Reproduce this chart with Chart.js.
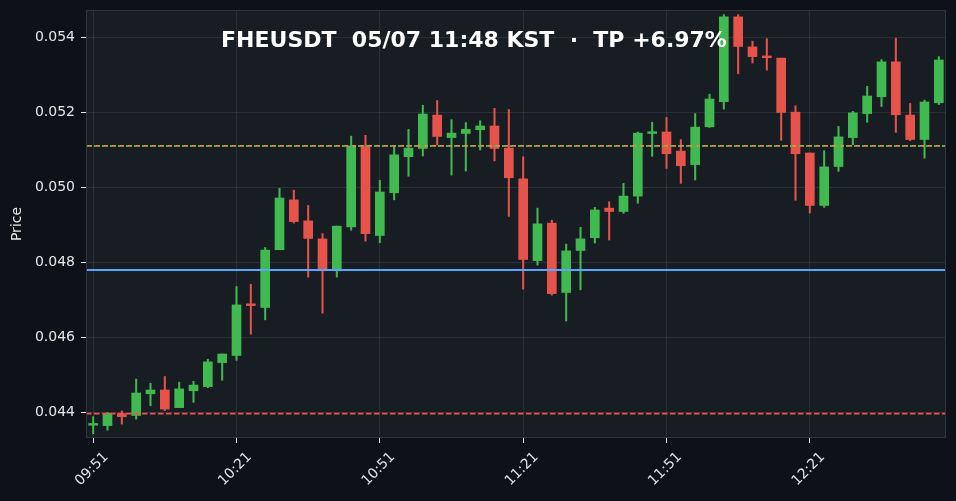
<!DOCTYPE html>
<html>
<head>
<meta charset="utf-8">
<script src="https://cdn.jsdelivr.net/npm/chart.js@4.4.1/dist/chart.umd.min.js"></script>
<style>
  html, body { margin: 0; padding: 0; background: #0e1117; }
  #wrap { width: 956px; height: 501px; position: relative; }
</style>
</head>
<body>
<div id="wrap"><canvas id="chart"></canvas></div>
<script>
// candle times, 3 minute bars
const times = [
  '09:51','09:54','09:57','10:00','10:03','10:06','10:09','10:12','10:15','10:18',
  '10:21','10:24','10:27','10:30','10:33','10:36','10:39','10:42','10:45','10:48',
  '10:51','10:54','10:57','11:00','11:03','11:06','11:09','11:12','11:15','11:18',
  '11:21','11:24','11:27','11:30','11:33','11:36','11:39','11:42','11:45','11:48',
  '11:51','11:54','11:57','12:00','12:03','12:06','12:09','12:12','12:15','12:18',
  '12:21','12:24','12:27','12:30','12:33','12:36','12:39','12:42','12:45','12:48'
];

const opens = [
  0.04366, 0.04365, 0.04397, 0.04392, 0.04450, 0.04460, 0.04413, 0.04458, 0.04469, 0.04533,
  0.04552, 0.04689, 0.04680, 0.04834, 0.04967, 0.04911, 0.04863, 0.04778, 0.04895, 0.05109,
  0.04872, 0.04986, 0.05082, 0.05104, 0.05193, 0.05133, 0.05144, 0.05154, 0.05164, 0.05105,
  0.05023, 0.04805, 0.04905, 0.04720, 0.04832, 0.04866, 0.04945, 0.04936, 0.04977, 0.05144,
  0.05148, 0.05097, 0.05061, 0.05162, 0.05229, 0.05455, 0.05375, 0.05350, 0.05345, 0.05201,
  0.05092, 0.04952, 0.05056, 0.05133, 0.05197, 0.05242, 0.05335, 0.05193, 0.05128, 0.05226
];
const highs = [
  0.04389, 0.04400, 0.04404, 0.04489, 0.04478, 0.04496, 0.04481, 0.04483, 0.04542, 0.04556,
  0.04736, 0.04742, 0.04840, 0.04998, 0.04993, 0.04952, 0.04877, 0.04897, 0.05137, 0.05139,
  0.05019, 0.05109, 0.05155, 0.05219, 0.05232, 0.05181, 0.05173, 0.05178, 0.05211, 0.05208,
  0.05082, 0.04945, 0.04913, 0.04849, 0.04894, 0.04947, 0.04962, 0.05011, 0.05148, 0.05174,
  0.05187, 0.05128, 0.05197, 0.05249, 0.05461, 0.05461, 0.05390, 0.05397, 0.05345, 0.05218,
  0.05092, 0.05098, 0.05163, 0.05203, 0.05270, 0.05341, 0.05398, 0.05224, 0.05233, 0.05349
];
const lows = [
  0.04343, 0.04353, 0.04369, 0.04382, 0.04418, 0.04405, 0.04413, 0.04427, 0.04466, 0.04486,
  0.04539, 0.04609, 0.04647, 0.04834, 0.04905, 0.04761, 0.04665, 0.04761, 0.04886, 0.04857,
  0.04853, 0.04967, 0.05030, 0.05084, 0.05113, 0.05033, 0.05044, 0.05100, 0.05071, 0.04923,
  0.04729, 0.04793, 0.04713, 0.04644, 0.04727, 0.04852, 0.04860, 0.04931, 0.04958, 0.05083,
  0.05051, 0.05011, 0.05020, 0.05160, 0.05209, 0.05303, 0.05332, 0.05313, 0.05126, 0.04966,
  0.04932, 0.04947, 0.05043, 0.05114, 0.05174, 0.05216, 0.05147, 0.05125, 0.05078, 0.05221
];
const closes = [
  0.04366, 0.04398, 0.04389, 0.04452, 0.04460, 0.04409, 0.04463, 0.04473, 0.04535, 0.04556,
  0.04687, 0.04685, 0.04833, 0.04972, 0.04909, 0.04864, 0.04778, 0.04897, 0.05111, 0.04877,
  0.04988, 0.05087, 0.05105, 0.05196, 0.05136, 0.05145, 0.05155, 0.05164, 0.05104, 0.05026,
  0.04808, 0.04903, 0.04717, 0.04831, 0.04863, 0.04940, 0.04936, 0.04977, 0.05145, 0.05148,
  0.05090, 0.05058, 0.05161, 0.05236, 0.05455, 0.05376, 0.05349, 0.05346, 0.05200, 0.05090,
  0.04952, 0.05055, 0.05135, 0.05199, 0.05244, 0.05335, 0.05194, 0.05128, 0.05228, 0.05340
];

// horizontal reference levels: entry, current, average, stop
const entryPrice = 0.05111;
const lastPrice = 0.05111;
const avgPrice = 0.0478;
const stopPrice = 0.04397;

const yTickValues = [0.044, 0.046, 0.048, 0.050, 0.052, 0.054];
const titleText = 'FHEUSDT  05/07 11:48 KST  \u00b7  TP +6.97%';

const UP = '#3fb950';
const DOWN = '#e5534b';
const TEXT = '#e6e6e6';
const GRID = 'rgba(90, 98, 110, 0.28)';

const candleColors = closes.map((c, i) => c >= opens[i] ? UP : DOWN);

const levelLines = [
  { value: entryPrice, color: '#f0883e', width: 1.6, dash: [6, 2] },
  { value: lastPrice, color: UP, width: 1.6, dash: [2.5, 5.5] },
  { value: avgPrice, color: '#58a6ff', width: 1.8, dash: [] },
  { value: stopPrice, color: '#f85149', width: 1.6, dash: [5.5, 2.5] }
];

const decorPlugin = {
  id: 'decor',
  beforeDraw(chart) {
    const { ctx, chartArea: a } = chart;
    ctx.save();
    ctx.fillStyle = '#0e1117';
    ctx.fillRect(0, 0, chart.width, chart.height);
    ctx.fillStyle = '#181c23';
    ctx.fillRect(a.left, a.top, a.right - a.left, a.bottom - a.top);
    ctx.restore();
  },
  afterDatasetsDraw(chart) {
    const { ctx, chartArea: a } = chart;
    const y = chart.scales.y;
    ctx.save();
    levelLines.forEach(l => {
      const py = y.getPixelForValue(l.value);
      ctx.beginPath();
      ctx.strokeStyle = l.color;
      ctx.lineWidth = l.width;
      ctx.setLineDash(l.dash);
      ctx.moveTo(a.left, py);
      ctx.lineTo(a.right, py);
      ctx.stroke();
    });
    ctx.setLineDash([]);
    ctx.strokeStyle = '#30363d';
    ctx.lineWidth = 1;
    ctx.strokeRect(a.left + 0.5, a.top + 0.5, a.right - a.left - 1, a.bottom - a.top - 1);

    ctx.fillStyle = '#ffffff';
    ctx.font = 'bold 22px "DejaVu Sans"';
    ctx.textAlign = 'center';
    ctx.textBaseline = 'alphabetic';
    ctx.fillText(titleText, chart.width / 2 - 4, 47);
    ctx.restore();
  }
};

new Chart(document.getElementById('chart'), {
  type: 'bar',
  data: {
    labels: times,
    datasets: [
      {
        label: 'body',
        data: opens.map((o, i) => [o, closes[i]]),
        backgroundColor: candleColors,
        borderWidth: 0,
        barThickness: 9,
        minBarLength: 1.8,
        grouped: false,
        order: 0
      },
      {
        label: 'wick',
        data: lows.map((l, i) => [l, highs[i]]),
        backgroundColor: candleColors,
        borderWidth: 0,
        barThickness: 1.4,
        grouped: false,
        order: 1
      }
    ]
  },
  options: {
    responsive: true,
    maintainAspectRatio: false,
    animation: false,
    layout: { padding: { top: 10, right: 10, left: 0, bottom: 0 } },
    plugins: {
      legend: { display: false },
      tooltip: { enabled: false }
    },
    scales: {
      x: {
        offset: true,
        border: { display: false },
        grid: {
          offset: false,
          color: c => c.index % 10 === 0 ? GRID : 'transparent',
          borderDash: [4, 4],
          tickColor: c => c.index % 10 === 0 ? TEXT : 'transparent',
          tickBorderDash: [],
          tickLength: 5
        },
        ticks: {
          autoSkip: false,
          minRotation: 45,
          maxRotation: 45,
          labelOffset: 13,
          padding: 6,
          color: TEXT,
          font: { family: 'DejaVu Sans', size: 14 },
          callback: (v, i) => i % 10 === 0 ? times[i] : ''
        },
        afterFit: s => { s.height = 63; s.paddingLeft = 0; s.paddingRight = 0; }
      },
      y: {
        min: 0.04332,
        max: 0.054733,
        border: { display: false },
        grid: {
          color: GRID,
          borderDash: [4, 4],
          tickColor: TEXT,
          tickBorderDash: [],
          tickLength: 5
        },
        ticks: {
          padding: 6,
          color: TEXT,
          font: { family: 'DejaVu Sans', size: 14 },
          callback: v => Number(v).toFixed(3)
        },
        afterBuildTicks: s => { s.ticks = yTickValues.map(v => ({ value: v })); },
        title: {
          display: true,
          text: 'Price',
          color: TEXT,
          font: { family: 'DejaVu Sans', size: 14 },
          padding: { top: 9, bottom: 0 }
        },
        afterFit: s => { s.width = 86; s.paddingTop = 0; s.paddingBottom = 0; }
      }
    }
  },
  plugins: [decorPlugin]
});
</script>
</body>
</html>
